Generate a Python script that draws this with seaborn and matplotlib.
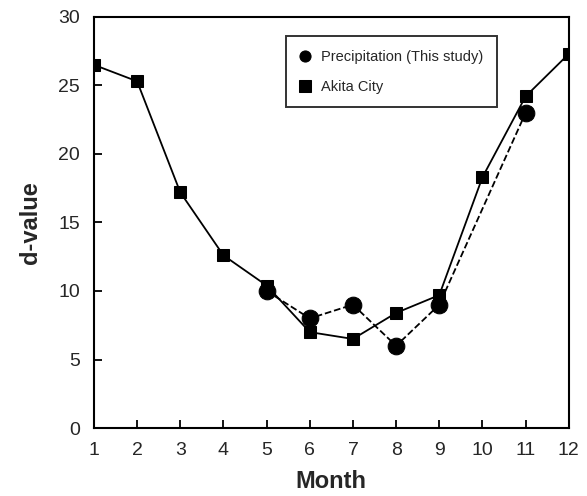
import pandas as pd
import matplotlib.pyplot as plt
import seaborn as sns

sns.set_style('ticks')
plt.rcParams['font.family'] = ['Liberation Sans', 'DejaVu Sans']

# 数据
akita_month = [1, 2, 3, 4, 5, 6, 7, 8, 9, 10, 11, 12]
akita_d = [26.5, 25.3, 17.2, 12.6, 10.4, 7.0, 6.5, 8.4, 9.7, 18.3, 24.2, 27.3]
precip_month = [5, 6, 7, 8, 9, 11]
precip_d = [10.0, 8.0, 9.0, 6.0, 9.0, 23.0]

df_akita = pd.DataFrame({'Month': akita_month, 'd': akita_d})
df_precip = pd.DataFrame({'Month': precip_month, 'd': precip_d})

fig = plt.figure(figsize=(5.87, 4.96), dpi=100)
ax = fig.add_axes([0.160, 0.137, 0.809, 0.829])

sns.lineplot(data=df_precip, x='Month', y='d', ax=ax, color='black', linestyle='--',
             linewidth=1.3, marker='o', markersize=12, markeredgecolor='black',
             label='Precipitation (This study)')
sns.lineplot(data=df_akita, x='Month', y='d', ax=ax, color='black', linestyle='-',
             linewidth=1.3, marker='s', markersize=8.5, markeredgecolor='black',
             label='Akita City')

ax.set_xlim(1, 12)
ax.set_ylim(0, 30)
ax.set_xticks(range(1, 13))
ax.set_yticks(range(0, 31, 5))
ax.tick_params(left=True, bottom=True, direction='in', length=6, width=1.3,
               labelsize=14, color='black')
ax.tick_params(axis='y', pad=10)
ax.tick_params(axis='x', pad=10)
for s in ax.spines.values():
    s.set_visible(True)
    s.set_linewidth(1.5)
    s.set_color('black')

ax.set_xlabel('Month', fontsize=17, fontweight='bold', labelpad=8)
ax.set_ylabel('d-value', fontsize=17, fontweight='bold', labelpad=12)

leg = ax.legend(loc='upper left', bbox_to_anchor=(0.39, 0.97), fontsize=10.5,
                frameon=True, fancybox=False, edgecolor='black', handlelength=0.8,
                handletextpad=0.7, borderpad=0.9, labelspacing=1.1)
leg.get_frame().set_linewidth(1.4)
for h in leg.legend_handles:
    h.set_linestyle('None')
    h.set_markersize(8)

plt.savefig('out.png', dpi=100)
